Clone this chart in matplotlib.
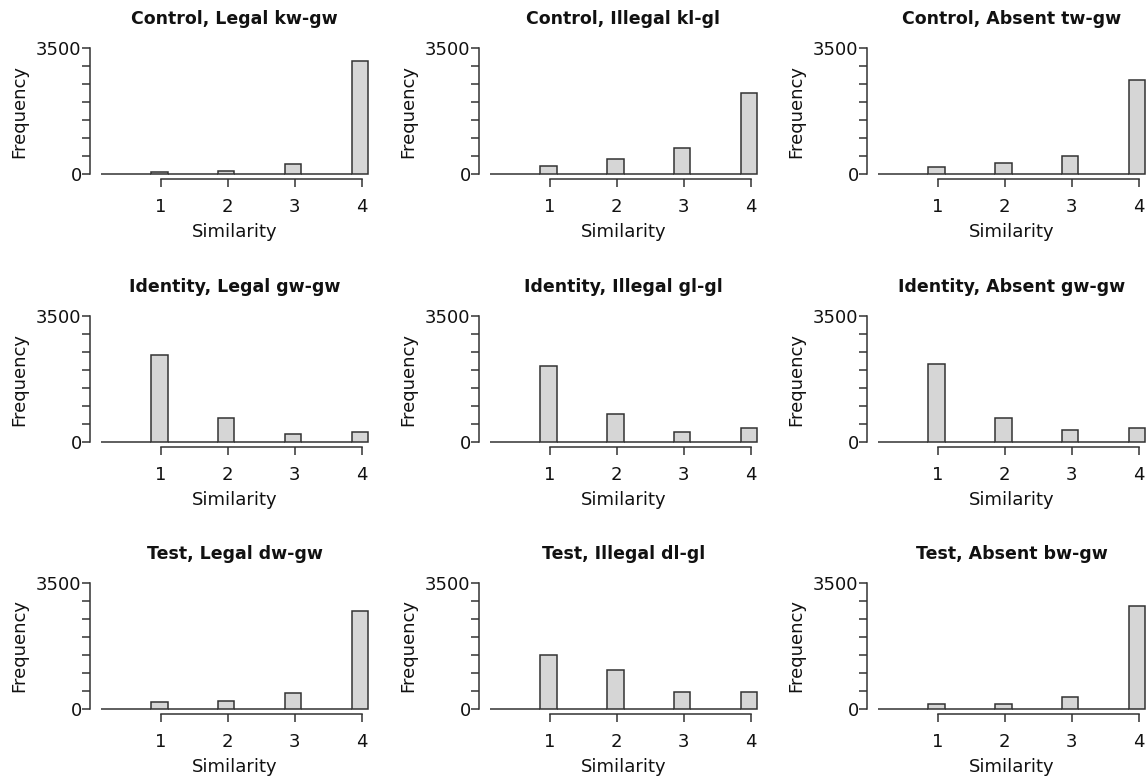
import numpy as np
import matplotlib
matplotlib.use("Agg")
import matplotlib.pyplot as plt

plt.rcParams['font.family'] = ['DejaVu Sans']

titles = [
    "Control, Legal kw-gw", "Control, Illegal kl-gl", "Control, Absent tw-gw",
    "Identity, Legal gw-gw", "Identity, Illegal gl-gl", "Identity, Absent gw-gw",
    "Test, Legal dw-gw", "Test, Illegal dl-gl", "Test, Absent bw-gw",
]
similarity = [1, 2, 3, 4]
counts_control_legal = [56, 93, 278, 3130]
counts_control_illegal = [222, 407, 731, 2250]
counts_control_absent = [185, 296, 509, 2620]
counts_identity_legal = [2405, 668, 213, 288]
counts_identity_illegal = [2117, 770, 288, 400]
counts_identity_absent = [2154, 668, 334, 400]
counts_test_legal = [188, 216, 450, 2712]
counts_test_illegal = [1499, 1089, 475, 475]
counts_test_absent = [147, 138, 322, 2855]
all_counts = [
    counts_control_legal, counts_control_illegal, counts_control_absent,
    counts_identity_legal, counts_identity_illegal, counts_identity_absent,
    counts_test_legal, counts_test_illegal, counts_test_absent,
]
breaks = np.arange(0.1, 4.1 + 1e-9, 0.25)
y_ticks = [0, 500, 1000, 1500, 2000, 2500, 3000, 3500]
y_ticklabels = ["0", "", "", "", "", "", "", "3500"]

W, H = 1147, 779
fig = plt.figure(figsize=(W / 100, H / 100), dpi=100)

col_left = [90, 479, 867]
ax_w = 289
row_bottom = [179, 447, 714]
ax_h = 136

line_col = "#333333"
txt_col = "#111111"

for i, (title, counts) in enumerate(zip(titles, all_counts)):
    r, c = divmod(i, 3)
    ax = fig.add_axes([col_left[c] / W, 1 - row_bottom[r] / H, ax_w / W, ax_h / H])
    ax.hist(similarity, bins=breaks, weights=counts, color="#d6d6d6",
            edgecolor=line_col, linewidth=1.1)
    ax.set_xlim(-0.06, 4.26)
    ax.set_ylim(-140, 3640)
    for s in ["top", "right"]:
        ax.spines[s].set_visible(False)
    ax.spines["left"].set_bounds(0, 3500)
    ax.spines["bottom"].set_bounds(1, 4)
    for s in ["left", "bottom"]:
        ax.spines[s].set_color(line_col)
        ax.spines[s].set_linewidth(1.1)
    ax.set_xticks(similarity)
    ax.set_xticklabels([str(v) for v in similarity])
    ax.set_yticks(y_ticks)
    ax.set_yticklabels(y_ticklabels)
    ax.tick_params(axis="both", direction="out", length=5.5, width=1.1,
                   color=line_col, labelsize=13, labelcolor=txt_col)
    ax.tick_params(axis="x", pad=8)
    ax.tick_params(axis="y", pad=0.5)
    ax.set_xlabel("Similarity", fontsize=13, color=txt_col, labelpad=5)
    ax.set_ylabel("Frequency", fontsize=13, color=txt_col, labelpad=6)
    ax.set_title(title, fontsize=12.5, fontweight="bold", color=txt_col, pad=14)

fig.savefig("out.png", dpi=100)
